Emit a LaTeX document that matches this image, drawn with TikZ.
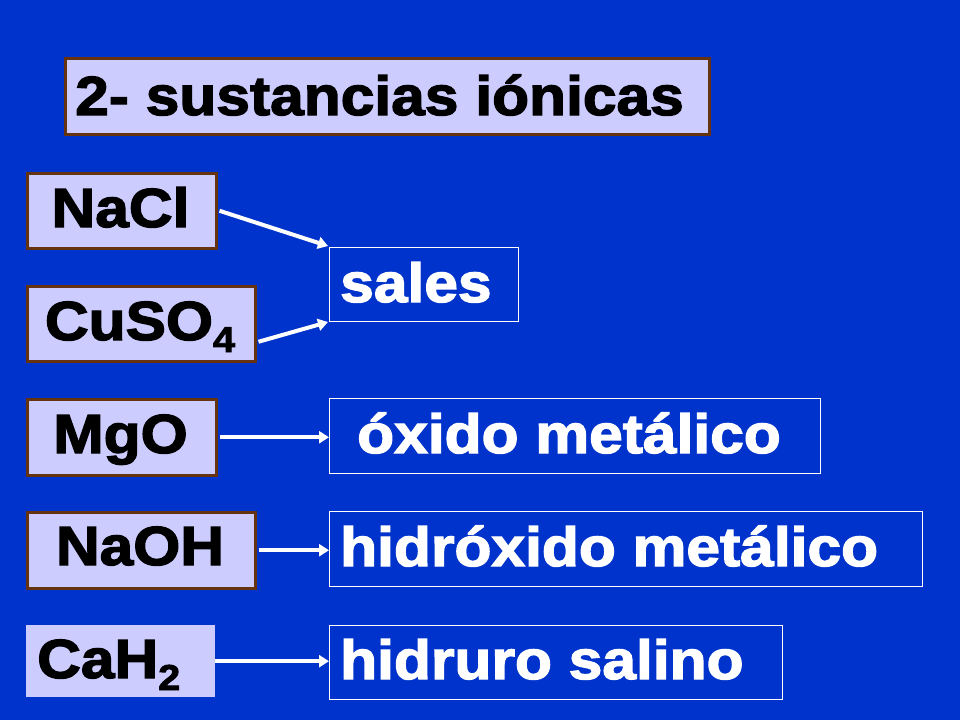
\documentclass[tikz,border=0pt]{standalone}
\usepackage{fontspec}
\newfontfamily\bk{Liberation Sans Bold}[FakeStretch=1.1,FakeBold=2.5]
\usetikzlibrary{arrows.meta}
\definecolor{bgblue}{HTML}{0033CC}
\definecolor{lav}{HTML}{CCCCFF}
\definecolor{brownb}{HTML}{663311}
\newcommand{\sbs}[1]{\raisebox{-12pt}{\fontsize{36}{36}\selectfont #1}}
\tikzset{
  lbox/.style={draw=brownb, line width=2.5pt, fill=lav, inner sep=0pt, anchor=north west},
  nbox/.style={fill=lav, inner sep=0pt, anchor=north west},
  wbox/.style={draw=white, line width=1pt, inner sep=0pt, anchor=north west},
  ltxt/.style={inner sep=0pt, font=\bk\fontsize{55}{55}\selectfont, text=black},
  wtxt/.style={inner sep=0pt, font=\bk\fontsize{55}{55}\selectfont, text=white, anchor=base west},
  arr/.style={draw=white, line width=4pt, -{Triangle[width=12pt,length=10pt]}}
}
\begin{document}
\begin{tikzpicture}[x=1pt,y=-1pt]
\fill[bgblue] (0,0) rectangle (960,720);
\useasboundingbox (0,0) rectangle (960,720);
% title
\node[lbox, minimum width=644pt, minimum height=76pt] (title) at (64,57) {};
\node[ltxt, anchor=base west] (titlet) at (75,115) {2- sustancias iónicas};
% left boxes
\node[lbox, minimum width=189pt, minimum height=75pt] (nacl) at (26,172) {};
\node[ltxt, anchor=base] (naclt) at (120.5,227) {NaCl};
\node[lbox, minimum width=228pt, minimum height=75pt] (cuso) at (26,285) {};
\node[ltxt, anchor=base] (cusot) at (140,340) {CuSO\sbs{4}};
\node[lbox, minimum width=189pt, minimum height=76pt] (mgo) at (26,398) {};
\node[ltxt, anchor=base] (mgot) at (120.5,453) {MgO};
\node[lbox, minimum width=228pt, minimum height=76pt] (naoh) at (26,511) {};
\node[ltxt, anchor=base] (naoht) at (140,565) {NaOH};
\node[nbox, minimum width=189pt, minimum height=72pt] (cah) at (26,625) {};
\node[ltxt, anchor=base west] (caht) at (37,678) {CaH\sbs{2}};
% right boxes
\node[wbox, minimum width=189pt, minimum height=74pt] (sales) at (329,247) {};
\node[wtxt] (salest) at (340,302) {sales};
\node[wbox, minimum width=491pt, minimum height=75pt] (oxido) at (329,398) {};
\node[wtxt] (oxidot) at (357,453) {óxido metálico};
\node[wbox, minimum width=593pt, minimum height=75pt] (hidrox) at (329,511) {};
\node[wtxt] (hidroxt) at (340,566) {hidróxido metálico};
\node[wbox, minimum width=453pt, minimum height=74pt] (hidruro) at (329,625) {};
\node[wtxt] (hidrurot) at (340,679) {hidruro salino};
% arrows
\draw[arr] ([xshift=2pt]nacl.east) -- ([xshift=-1pt,yshift=1pt]sales.north west);
\draw[arr] ([xshift=2pt,yshift=-18pt]cuso.east) -- ([xshift=-1pt]sales.south west);
\draw[arr] ([xshift=2pt]mgo.east) -- (mgo.east -| oxido.west);
\draw[arr] ([xshift=2pt]naoh.east) -- (naoh.east -| hidrox.west);
\draw[arr] (cah.east) -- (cah.east -| hidruro.west);
\end{tikzpicture}
\end{document}
